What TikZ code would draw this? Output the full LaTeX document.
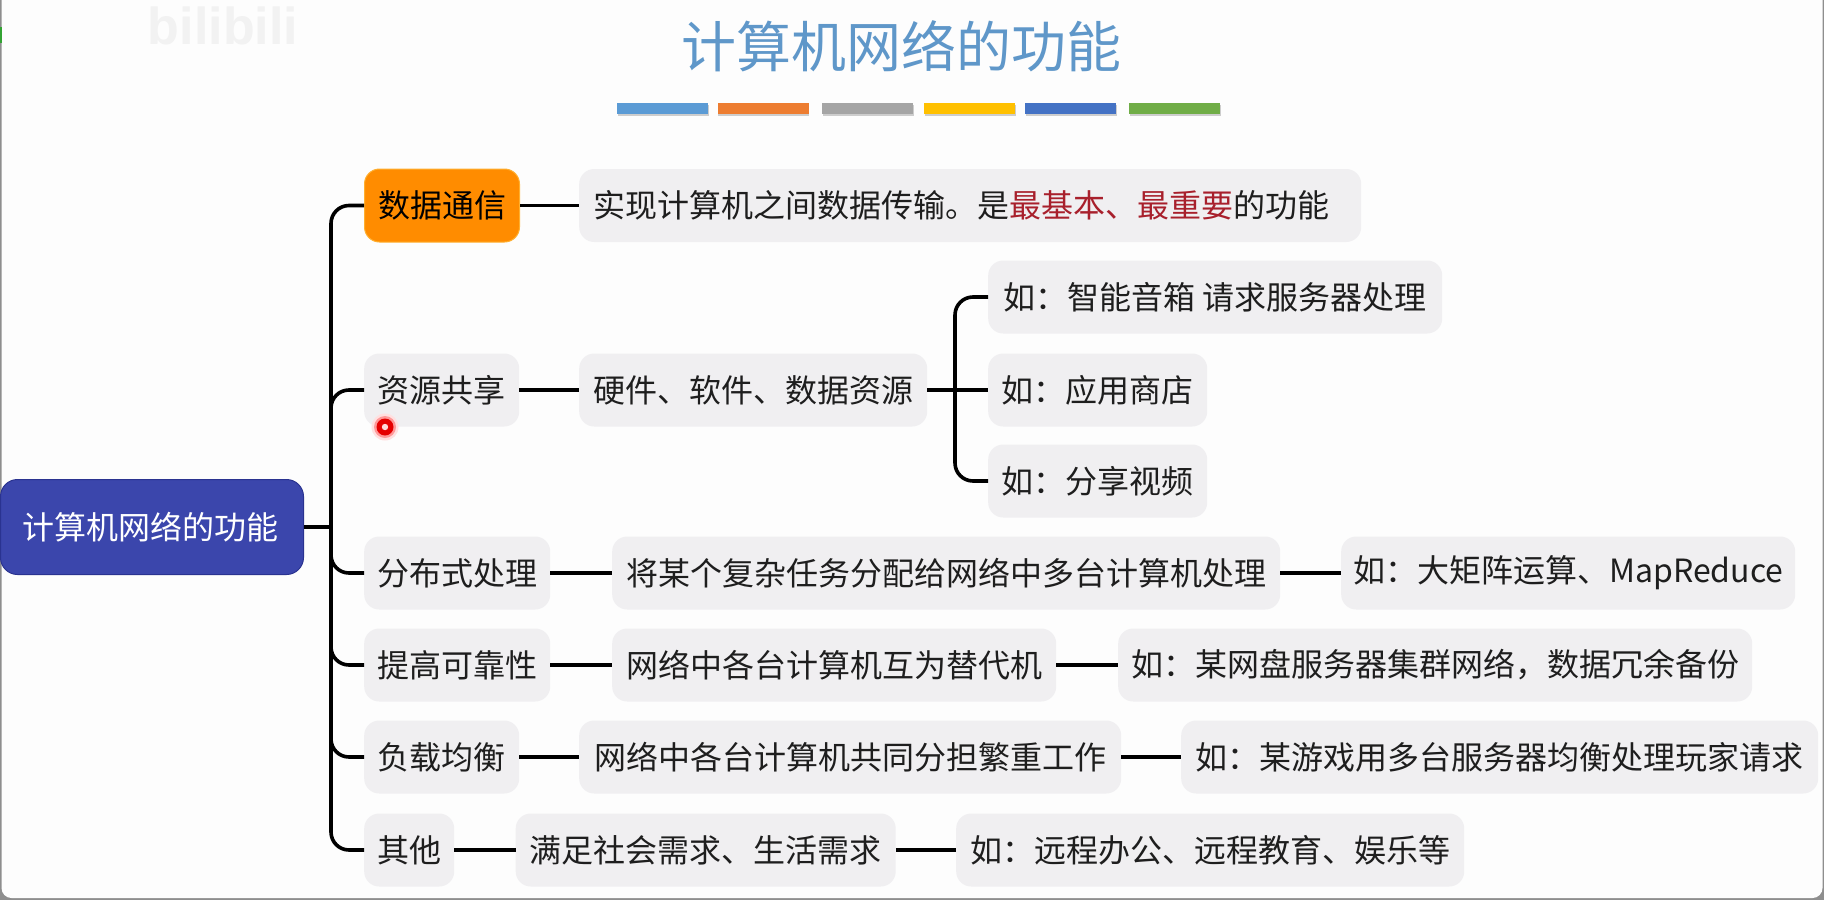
\documentclass[tikz,border=0pt]{standalone}
\usepackage{fontspec}
\setmainfont{Noto Sans CJK SC}
\newfontfamily\wmfont{Liberation Sans}
\definecolor{pagebg}{HTML}{FDFDFD}
\definecolor{edgegray}{HTML}{8E8E8E}
\definecolor{boxgray}{HTML}{F0EFF1}
\definecolor{inkdark}{HTML}{1E1E1E}
\definecolor{titleblue}{HTML}{5F97C9}
\definecolor{keyred}{HTML}{A8202C}
\definecolor{rootblue}{HTML}{3B46AC}
\definecolor{rootedge}{HTML}{2A3390}
\definecolor{hlorange}{HTML}{FF8C00}
\definecolor{hledge}{HTML}{FFB030}
\tikzset{
  x=1pt,y=-1pt,
  item/.style={rectangle,rounded corners=15pt,fill=boxgray,text=inkdark,inner xsep=0pt,inner ysep=0pt,
    minimum height=73pt,anchor=west,font=\fontsize{32}{36}\selectfont},
  hlitem/.style={item,fill=hlorange,draw=hledge,line width=1pt,text=black},
  rootitem/.style={item,fill=rootblue,draw=rootedge,line width=1pt,text=white,minimum height=95pt,rounded corners=17pt},
  conn/.style={draw=black,line width=3.6pt},
  curveconn/.style={conn,rounded corners=18pt},
  colorstrip/.style={rectangle,inner sep=0pt,minimum width=91pt,minimum height=10.5pt},
  stripshade/.style={colorstrip,fill=black!35,opacity=.55},
}
\newcommand{\colorbar}[3]{%
  \node[stripshade] (#1s) at (#2+0.5,110.5) {};
  \node[colorstrip,fill=#3] (#1) at (#2,108.5) {};}
\begin{document}
\begin{tikzpicture}
\useasboundingbox (0,0) rectangle (1824,900);
% window
\fill[edgegray] (0,0) rectangle (1824,900);
\fill[pagebg] (1.5,0) -- (1822.5,0) -- (1822.5,888) arc[start angle=0,end angle=90,radius=10] -- (11.5,898) arc[start angle=90,end angle=180,radius=10] -- cycle;
% faint recording marks
\node[anchor=center,text=black!5,font=\wmfont\bfseries\fontsize{52}{52}\selectfont,inner sep=0pt] (wm) at (223,26) {bilibili};
\fill[green!55!black!80] (0,27) rectangle (1.5,43);
% title
\node[inner sep=0pt,text=titleblue,font=\fontsize{55}{60}\selectfont] (title) at (901,46) {计算机网络的功能};
\definecolor{b1}{HTML}{5B9BD5}\definecolor{b2}{HTML}{ED7D31}\definecolor{b3}{HTML}{A5A5A5}
\definecolor{b4}{HTML}{FFC000}\definecolor{b5}{HTML}{4472C4}\definecolor{b6}{HTML}{70AD47}
\colorbar{ba}{662.5}{b1}
\colorbar{bb}{763}{b2}
\colorbar{bc}{867.5}{b3}
\colorbar{bd}{969.5}{b4}
\colorbar{be}{1070.5}{b5}
\colorbar{bf}{1174.5}{b6}
% root
\node[rootitem,minimum width=303pt] (root) at (0,527) {\hspace*{-3pt}计算机网络的功能};
% level 1
\node[hlitem,minimum width=155pt] (a1) at (364,205.5) {数据通信};
\node[item,minimum width=155pt] (b1n) at (364,390) {资源共享};
\node[item,minimum width=186pt] (c1) at (364,573) {分布式处理};
\node[item,minimum width=186pt] (d1) at (364,665) {提高可靠性};
\node[item,minimum width=155pt] (e1) at (364,757) {负载均衡};
\node[item,minimum width=90pt] (f1) at (364,850) {其他};
% level 2
\node[item,minimum width=782pt] (a2) at (579,205.5) {\makebox[754pt][l]{实现计算机之间数据传输。是\textcolor{keyred}{最基本、最重要}的功能}};
\node[item,minimum width=348pt] (b2) at (579,390) {硬件、软件、数据资源};
\node[item,minimum width=668pt] (c2) at (612,573) {将某个复杂任务分配给网络中多台计算机处理};
\node[item,minimum width=444pt] (d2) at (612,665) {网络中各台计算机互为替代机};
\node[item,minimum width=542pt] (e2) at (579,757) {网络中各台计算机共同分担繁重工作};
\node[item,minimum width=380pt] (f2) at (515.5,850) {满足社会需求、生活需求};
% level 3
\node[item,minimum width=454pt] (b3a) at (988,297) {如：智能音箱 请求服务器处理};
\node[item,minimum width=219pt] (b3b) at (988,390) {如：应用商店};
\node[item,minimum width=219pt] (b3c) at (988,481) {如：分享视频};
\node[item,minimum width=454pt] (c3) at (1341,573) {如：大矩阵运算、MapReduce};
\node[item,minimum width=634pt] (d3) at (1118,665) {如：某网盘服务器集群网络，数据冗余备份};
\node[item,minimum width=637pt] (e3) at (1181,757) {如：某游戏用多台服务器均衡处理玩家请求};
\node[item,minimum width=508pt] (f3) at (956,850) {如：远程办公、远程教育、娱乐等};
% branch points
\coordinate (trunk) at (331,527);
\coordinate (fork) at (955,390);
% connectors
\draw[conn] (root.east) -- (trunk);
\foreach \n in {a1,b1n,c1,d1,e1,f1} \draw[curveconn] (trunk) |- (\n.west);
\draw[conn] (a1.east) -- (a2.west);
\draw[conn] (b1n.east) -- (b2.west);
\draw[conn] (c1.east) -- (c2.west);
\draw[conn] (d1.east) -- (d2.west);
\draw[conn] (e1.east) -- (e2.west);
\draw[conn] (f1.east) -- (f2.west);
\draw[conn] (b2.east) -- (b3b.west);
\draw[curveconn] (fork) |- (b3a.west);
\draw[curveconn] (fork) |- (b3c.west);
\draw[conn] (c2.east) -- (c3.west);
\draw[conn] (d2.east) -- (d3.west);
\draw[conn] (e2.east) -- (e3.west);
\draw[conn] (f2.east) -- (f3.west);
% pointer
\fill[red!12] (385,427) circle (13.5);
\fill[red!40] (385,427) circle (11);
\fill[red!90!black] (385,427) circle (8.5);
\fill[red!15] (385,427) circle (3.2);
\end{tikzpicture}
\end{document}
